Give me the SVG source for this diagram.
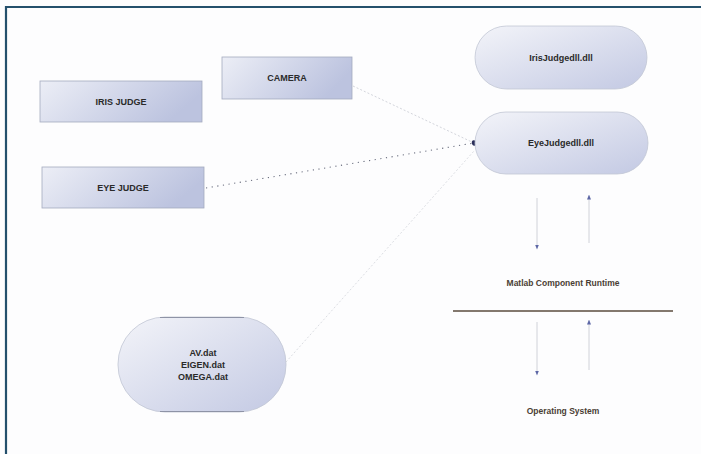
<svg xmlns="http://www.w3.org/2000/svg" width="701" height="454" viewBox="0 0 701 454">
<defs>
<linearGradient id="boxg" x1="0" y1="0" x2="1" y2="0.3">
<stop offset="0" stop-color="#eceef6"/>
<stop offset="1" stop-color="#bcc3df"/>
</linearGradient>
<linearGradient id="pillg" x1="0" y1="0" x2="1" y2="1">
<stop offset="0" stop-color="#f3f4f9"/>
<stop offset="1" stop-color="#c3c9e3"/>
</linearGradient>
<marker id="ah" viewBox="0 0 10 10" refX="5" refY="5" markerWidth="5" markerHeight="5" orient="auto">
<path d="M0,1 L10,5 L0,9 Z" fill="#5d67a6"/>
</marker>
<marker id="dot" viewBox="0 0 10 10" refX="5" refY="5" markerWidth="5" markerHeight="6" orient="auto">
<ellipse cx="5" cy="5" rx="4" ry="5" fill="#2a2e5a"/>
</marker>
</defs>
<style>
.box{fill:url(#boxg);stroke:#a4aabf;stroke-width:0.8}
.pill{fill:url(#pillg);stroke:#c2c6d4;stroke-width:0.8}
.t{font-family:"Liberation Sans",Arial,sans-serif;font-weight:bold;font-size:9px;fill:#2a2a2a;text-anchor:middle}
.lbl{font-family:"Liberation Sans",Arial,sans-serif;font-weight:bold;font-size:8.5px;fill:#4a3e34;text-anchor:middle}
.arr{stroke:#d0d2d9;stroke-width:1;fill:none;marker-end:url(#ah)}
</style>
<rect x="0" y="0" width="701" height="454" fill="#fdfdfe"/>
<path d="M6,454 L6,7 L701,7" fill="none" stroke="#24506c" stroke-width="2.2"/>

<g id="connectors">
<line x1="353" y1="86" x2="474" y2="143" stroke="#d3d5dc" stroke-width="1" stroke-dasharray="2 2"/>
<line x1="206" y1="188" x2="474" y2="143" stroke="#6c7080" stroke-width="1.1" stroke-dasharray="1.2 4.5" marker-end="url(#dot)"/>
<line x1="286" y1="362" x2="474" y2="151" stroke="#dcdee3" stroke-width="1" stroke-dasharray="2 2"/>
<line class="arr" x1="537" y1="198" x2="537" y2="247"/>
<line class="arr" x1="589" y1="243" x2="589" y2="197"/>
<line class="arr" x1="537" y1="322" x2="537" y2="373"/>
<line class="arr" x1="589" y1="370" x2="589" y2="322"/>
<line x1="453" y1="311" x2="673" y2="311" stroke="#5a4b3e" stroke-width="1.6"/>
</g>

<g id="iris-judge">
<rect class="box" x="40" y="81" width="162" height="41"/>
<text class="t" x="121" y="105">IRIS JUDGE</text>
</g>
<g id="camera">
<rect class="box" x="222" y="57" width="130" height="42"/>
<text class="t" x="287" y="81">CAMERA</text>
</g>
<g id="eye-judge">
<rect class="box" x="42" y="167" width="162" height="41"/>
<text class="t" x="123" y="191">EYE  JUDGE</text>
</g>
<g id="iris-dll">
<rect class="pill" x="475" y="26" width="172" height="63" rx="31.5"/>
<text class="t" x="561" y="61">IrisJudgedll.dll</text>
</g>
<g id="eye-dll">
<rect class="pill" x="475" y="112" width="173" height="62" rx="31"/>
<text class="t" x="561" y="146">EyeJudgedll.dll</text>
</g>
<g id="data-files">
<rect class="pill" x="118" y="317" width="168" height="95" rx="47"/>
<line x1="160" y1="317.5" x2="244" y2="317.5" stroke="#8e93a6" stroke-width="1"/>
<line x1="160" y1="411.5" x2="244" y2="411.5" stroke="#8e93a6" stroke-width="1"/>
<text class="t" x="203" y="356">AV.dat</text>
<text class="t" x="203" y="368">EIGEN.dat</text>
<text class="t" x="203" y="380">OMEGA.dat</text>
</g>
<g id="matlab-runtime">
<text class="lbl" x="563" y="286">Matlab Component Runtime</text>
</g>
<g id="operating-system">
<text class="lbl" x="563" y="414">Operating System</text>
</g>
</svg>
